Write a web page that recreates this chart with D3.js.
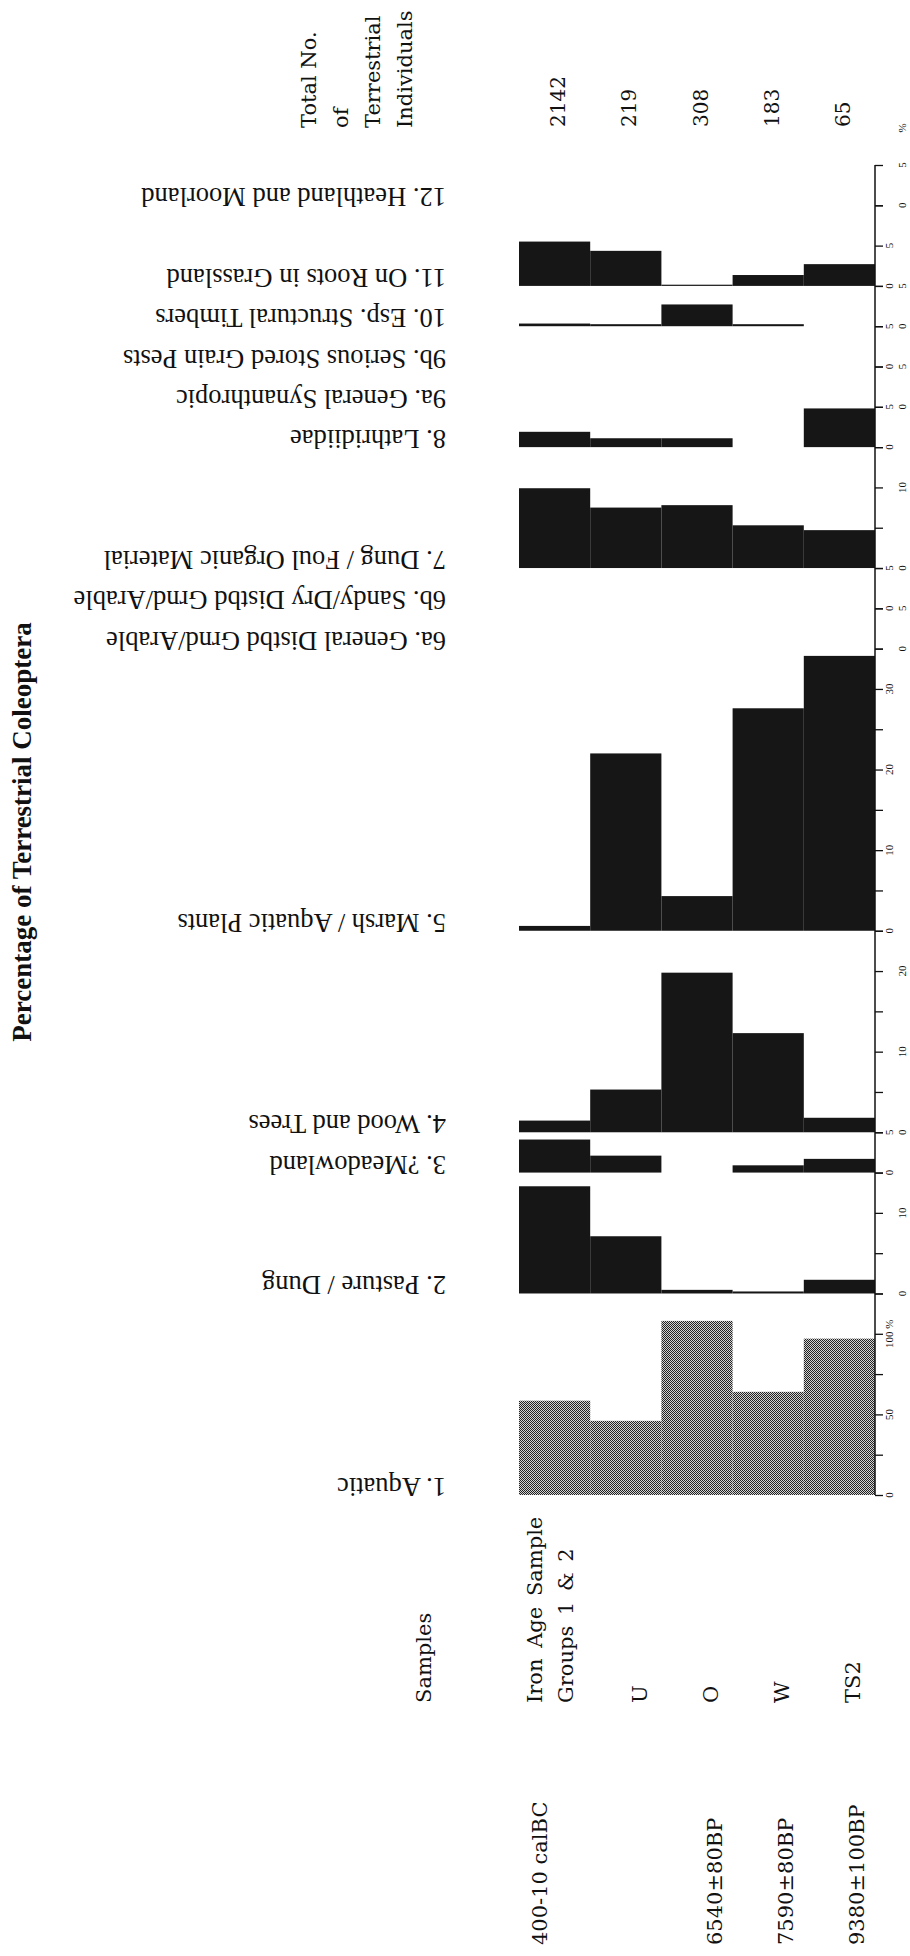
<!DOCTYPE html>
<html>
<head>
<meta charset="utf-8">
<script src="https://cdn.jsdelivr.net/npm/d3@7"></script>
<style>
  body { margin: 0; background: #fff; }
  svg { display: block; }
</style>
</head>
<body>
<svg id="chart" width="910" height="1956"></svg>
<script>
// ---- data (percent of terrestrial Coleoptera), samples in order Iron Age, U, O, W, TS2 ----
const sampleLabels = [["Iron Age Sample", "Groups 1 & 2"], ["U"], ["O"], ["W"], ["TS2"]];
const sampleDates = ["400-10 calBC", "", "6540±80BP", "7590±80BP", "9380±100BP"];
const totalIndividuals = [2142, 219, 308, 183, 65];

const groupNames = [
    "1. Aquatic", "2. Pasture / Dung", "3. ?Meadowland", "4. Wood and Trees",
    "5. Marsh / Aquatic Plants", "6a. General Distbd Grnd/Arable",
    "6b. Sandy/Dry Distbd Grnd/Arable", "7. Dung / Foul Organic Material",
    "8. Lathridiidae", "9a. General Synanthropic", "9b. Serious Stored Grain Pests",
    "10. Esp. Structural Timbers", "11. On Roots in Grassland", "12. Heathland and Moorland"
];

const aquatic = [58.5, 46, 108, 64, 97];
const pastureDung = [13.3, 7.1, 0.45, 0.25, 1.7];
const meadowland = [4.1, 2.1, 0, 0.9, 1.7];
const woodTrees = [1.45, 5.3, 19.8, 12.3, 1.8];
const marshPlants = [0.6, 22.0, 4.3, 27.6, 34.1];
const generalDisturbed = [0, 0, 0, 0, 0];
const sandyDisturbed = [0, 0, 0, 0, 0];
const dungFoul = [9.9, 7.5, 7.8, 5.3, 4.7];
const lathridiidae = [1.9, 1.1, 1.1, 0, 4.8];
const synanthropic = [0, 0, 0, 0, 0];
const grainPests = [0, 0, 0, 0, 0];
const timbers = [0.33, 0.25, 2.7, 0.25, 0];
const rootsGrassland = [5.5, 4.35, 0.15, 1.35, 2.7];
const heathland = [0, 0, 0, 0, 0];

const groupValues = [aquatic, pastureDung, meadowland, woodTrees, marshPlants, generalDisturbed,
    sandyDisturbed, dungFoul, lathridiidae, synanthropic, grainPests, timbers, rootsGrassland, heathland];

// axis extent of each panel (%), tick step and labelled ticks
const groupMax = [125, 15, 5, 25, 35, 5, 5, 15, 5, 5, 5, 5, 10, 5];
const groupTickStep = [25, 5, 5, 5, 5, 5, 5, 5, 5, 5, 5, 5, 5, 5];
const groupTickLabels = [[0, 50, 100], [0, 10], [0, 5], [0, 10, 20], [0, 10, 20, 30], [0, 5], [0, 5],
    [0, 10], [0, 5], [0, 5], [0, 5], [0, 5], [0, 5], [0, 5]];
// aquatic is drawn at one fifth of the scale of the other groups
const groupExaggeration = [0.2, 1, 1, 1, 1, 1, 1, 1, 1, 1, 1, 1, 1, 1];

// ---- layout ----
const svg = d3.select("#chart");
const serif = "'Liberation Serif', 'Times New Roman', serif";
const bookSerif = "'DejaVu Serif', serif";
const ink = "#111";
const axisX = 875;

const x = d3.scaleBand().domain(d3.range(sampleLabels.length)).range([519, 875]);

const units = groupMax.map((m, i) => m * groupExaggeration[i]);
const cum = [0];
units.forEach(u => cum.push(cum[cum.length - 1] + u));
const stack = d3.scaleLinear().domain([0, cum[cum.length - 1]]).range([1495, 165]);

// dither pattern for the aquatic bars
const pat = svg.append("defs").append("pattern")
    .attr("id", "dither")
    .attr("width", 2).attr("height", 2)
    .attr("patternUnits", "userSpaceOnUse");
pat.append("rect").attr("width", 2).attr("height", 2).attr("fill", "#d2d2d2");
pat.append("rect").attr("width", 1).attr("height", 1).attr("fill", "#222");
pat.append("rect").attr("x", 1).attr("y", 1).attr("width", 1).attr("height", 1).attr("fill", "#222");

// title
svg.append("text")
    .attr("transform", "translate(31,832) rotate(-90)")
    .attr("text-anchor", "middle")
    .attr("font-family", serif)
    .attr("font-weight", "bold")
    .attr("font-size", 27)
    .attr("fill", ink)
    .text("Percentage of Terrestrial Coleoptera");

// panels
groupValues.forEach((vals, i) => {
    const base = stack(cum[i]);
    const y = d3.scaleLinear().domain([0, groupMax[i]]).range([base, stack(cum[i + 1])]);
    const g = svg.append("g").attr("class", "panel");

    g.selectAll("rect")
        .data(vals.map((v, j) => ({ v, j })).filter(d => d.v > 0))
        .join("rect")
        .attr("x", d => x(d.j))
        .attr("width", x.bandwidth())
        .attr("y", d => y(d.v))
        .attr("height", d => base - y(d.v))
        .attr("fill", i === 0 ? "url(#dither)" : "#161616");

    // ticks to the right of the shared axis line
    const ticks = d3.range(0, groupMax[i] + 1e-6, groupTickStep[i]);
    g.append("g")
        .attr("transform", `translate(${axisX},0)`)
        .call(d3.axisRight(y).tickValues(ticks).tickSize(8).tickFormat(""))
        .call(a => a.select(".domain").remove())
        .call(a => a.selectAll("line").attr("stroke", ink).attr("stroke-width", 1.3));

    // tick labels, staggered in two rows
    const lx = i % 2 === 0 ? 889 : 902;
    g.selectAll("text.tick-label")
        .data(groupTickLabels[i])
        .join("text")
        .attr("class", "tick-label")
        .attr("transform", d => `translate(${lx},${y(d)}) rotate(-90)`)
        .attr("text-anchor", "middle")
        .attr("dominant-baseline", "central")
        .attr("font-family", serif)
        .attr("font-size", 11)
        .attr("fill", ink)
        .text(d => (i === 0 && d === 100) ? "100 %" : d);

    // group name, upside down
    g.append("text")
        .attr("transform", `translate(446,${base - 17}) rotate(180)`)
        .attr("font-family", serif)
        .attr("font-size", 26.5)
        .attr("fill", ink)
        .text(groupNames[i]);
});

// shared vertical axis line
svg.append("line")
    .attr("x1", axisX).attr("x2", axisX)
    .attr("y1", stack(cum[cum.length - 1])).attr("y2", stack(0))
    .attr("stroke", ink).attr("stroke-width", 1.5);

svg.append("text")
    .attr("transform", "translate(902,128) rotate(-90)")
    .attr("text-anchor", "middle")
    .attr("dominant-baseline", "central")
    .attr("font-family", serif)
    .attr("font-size", 11)
    .attr("fill", ink)
    .text("%");

// totals header and values
const header = ["Total No.", "of", "Terrestrial", "Individuals"];
svg.selectAll("text.header")
    .data(header)
    .join("text")
    .attr("class", "header")
    .attr("transform", (d, k) => `translate(${316 + k * 32},128) rotate(-90)`)
    .attr("font-family", bookSerif)
    .attr("font-size", 21)
    .attr("fill", ink)
    .text(d => d);

svg.selectAll("text.total")
    .data(totalIndividuals)
    .join("text")
    .attr("class", "total")
    .attr("transform", (d, j) => `translate(${x(j) + x.bandwidth() / 2 + 10.5},127) rotate(-90)`)
    .attr("font-family", bookSerif)
    .attr("font-size", 20)
    .attr("fill", ink)
    .text(d => d);

// sample labels and dates at the foot
svg.append("text")
    .attr("transform", "translate(431,1703) rotate(-90)")
    .attr("font-family", bookSerif)
    .attr("font-size", 21)
    .attr("fill", ink)
    .text("Samples");

sampleLabels.forEach((lines, j) => {
    const cx = x(j) + x.bandwidth() / 2;
    const first = lines.length > 1 ? cx - 12.6 : cx + 21;
    lines.forEach((line, k) => {
        svg.append("text")
            .attr("transform", `translate(${first + k * 31},1703) rotate(-90)`)
            .attr("font-family", bookSerif)
            .attr("font-size", 21)
            .attr("word-spacing", 4)
            .attr("fill", ink)
            .text(line);
    });
    if (sampleDates[j]) {
        svg.append("text")
            .attr("transform", `translate(${lines.length > 1 ? first + 5 : cx + 24.5},1945) rotate(-90)`)
            .attr("font-family", bookSerif)
            .attr("font-size", 21)
            .attr("fill", ink)
            .text(sampleDates[j]);
    }
});
</script>
</body>
</html>
